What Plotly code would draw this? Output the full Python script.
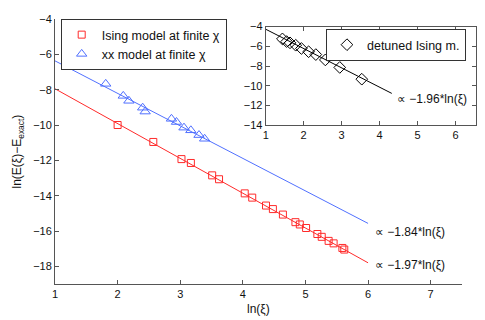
import plotly.graph_objects as go

# main panel: data
ising_x = [2.00, 2.57, 3.02, 3.17, 3.51, 3.62, 4.03, 4.15, 4.37, 4.48,
           4.64, 4.84, 4.91, 5.01, 5.19, 5.26, 5.37, 5.45, 5.59, 5.62]
ising_y = [-10.00, -10.96, -11.93, -12.15, -12.85, -13.07, -13.87, -14.11, -14.56, -14.76,
           -15.07, -15.50, -15.63, -15.83, -16.17, -16.33, -16.56, -16.70, -16.96, -17.05]
xx_x = [1.81, 2.09, 2.18, 2.40, 2.44, 2.86, 2.94, 3.06, 3.17, 3.30, 3.39]
xx_y = [-7.67, -8.35, -8.63, -9.02, -9.24, -9.65, -9.83, -10.15, -10.30, -10.57, -10.78]
fit_x = [1, 6]
ising_fit_y = [-7.95, -17.80]
xx_fit_y = [-6.37, -15.57]

# inset: detuned Ising model
det_x = [1.44, 1.55, 1.64, 1.79, 1.94, 2.13, 2.32, 2.57, 2.95, 3.53]
det_y = [-5.25, -5.52, -5.65, -5.89, -6.22, -6.55, -6.84, -7.38, -8.14, -9.33]
det_fit_x = [1, 4.32]
det_fit_y = [-4.27, -10.77]

RED = '#ff2a2a'
BLUE = '#5070ff'
AX = '#555555'
FONT = dict(family='Liberation Sans, Arial, sans-serif', size=11, color='#111111')
LFONT = dict(FONT, size=12.5)
AFONT = dict(FONT, size=12)

fig = go.Figure()
fig.add_trace(go.Scatter(x=fit_x, y=ising_fit_y, mode='lines', line=dict(color=RED, width=1),
                         showlegend=False))
fig.add_trace(go.Scatter(x=fit_x, y=xx_fit_y, mode='lines', line=dict(color=BLUE, width=1),
                         showlegend=False))
fig.add_trace(go.Scatter(x=ising_x, y=ising_y, mode='markers', name='Ising model at finite χ',
                         marker=dict(symbol='square-open', size=7, color=RED, line=dict(width=1))))
fig.add_trace(go.Scatter(x=xx_x, y=xx_y, mode='markers', name='xx model at finite χ',
                         marker=dict(symbol='triangle-up-open', size=9, color=BLUE, line=dict(width=1))))

fig.add_trace(go.Scatter(x=det_fit_x, y=det_fit_y, mode='lines', line=dict(color='black', width=1),
                         showlegend=False, xaxis='x2', yaxis='y2'))
fig.add_trace(go.Scatter(x=det_x, y=det_y, mode='markers', name='detuned Ising m.',
                         marker=dict(symbol='diamond-open', size=9, color='black', line=dict(width=1)),
                         xaxis='x2', yaxis='y2', legend='legend2'))

axis_common = dict(showgrid=False, zeroline=False, showline=True, linecolor=AX, linewidth=1,
                   ticks='inside', ticklen=4, tickcolor=AX, tickfont=FONT)

# page body has an 8px margin, so the figure is 8px smaller each way
fig.update_layout(
    width=477, height=312,
    paper_bgcolor='white', plot_bgcolor='white',
    font=FONT,
    margin=dict(l=47, r=5, t=6, b=36),
    xaxis=dict(**axis_common, domain=[0, 0.9576], range=[1, 7.5], tickvals=[1, 2, 3, 4, 5, 6, 7],
               mirror=False),
    yaxis=dict(**axis_common, domain=[0, 1], range=[-19, -4],
               tickvals=[-18, -16, -14, -12, -10, -8, -6, -4], mirror=False),
    xaxis2=dict(**axis_common, domain=[0.4958, 0.9899], range=[1, 6.53], anchor='y2',
                tickvals=[1, 2, 3, 4, 5, 6], mirror='ticks'),
    yaxis2=dict(**axis_common, domain=[0.5989, 0.9715], range=[-14, -4], anchor='x2',
                tickvals=[-14, -12, -10, -8, -6, -4], mirror='ticks'),
    legend=dict(x=0.0134, y=1.0, xanchor='left', yanchor='top', bgcolor='white',
                bordercolor='#333333', borderwidth=1, font=LFONT, tracegroupgap=0),
    legend2=dict(x=0.6376, y=0.962, xanchor='left', yanchor='top', bgcolor='white',
                 bordercolor='#333333', borderwidth=1, font=LFONT),
)

fig.add_annotation(x=6.08, y=-16.06, xref='x', yref='y', text='∝ −1.84*ln(ξ)', showarrow=False,
                   xanchor='left', yanchor='middle', font=AFONT)
fig.add_annotation(x=6.08, y=-17.94, xref='x', yref='y', text='∝ −1.97*ln(ξ)', showarrow=False,
                   xanchor='left', yanchor='middle', font=AFONT)
fig.add_annotation(x=4.40, y=-11.29, xref='x2', yref='y2', text='∝ −1.96*ln(ξ)', showarrow=False,
                   xanchor='left', yanchor='middle', font=AFONT)

fig.add_annotation(x=-0.1106, y=0.5, xref='paper', yref='paper', text='ln(E(ξ)−E<sub>exact</sub>)',
                   textangle=-90, showarrow=False, xanchor='left', yanchor='middle', font=AFONT)
fig.add_annotation(x=0.4787, y=-0.096, xref='paper', yref='paper', text='ln(ξ)',
                   showarrow=False, xanchor='center', yanchor='middle', font=AFONT)

fig.write_html("out.html")
